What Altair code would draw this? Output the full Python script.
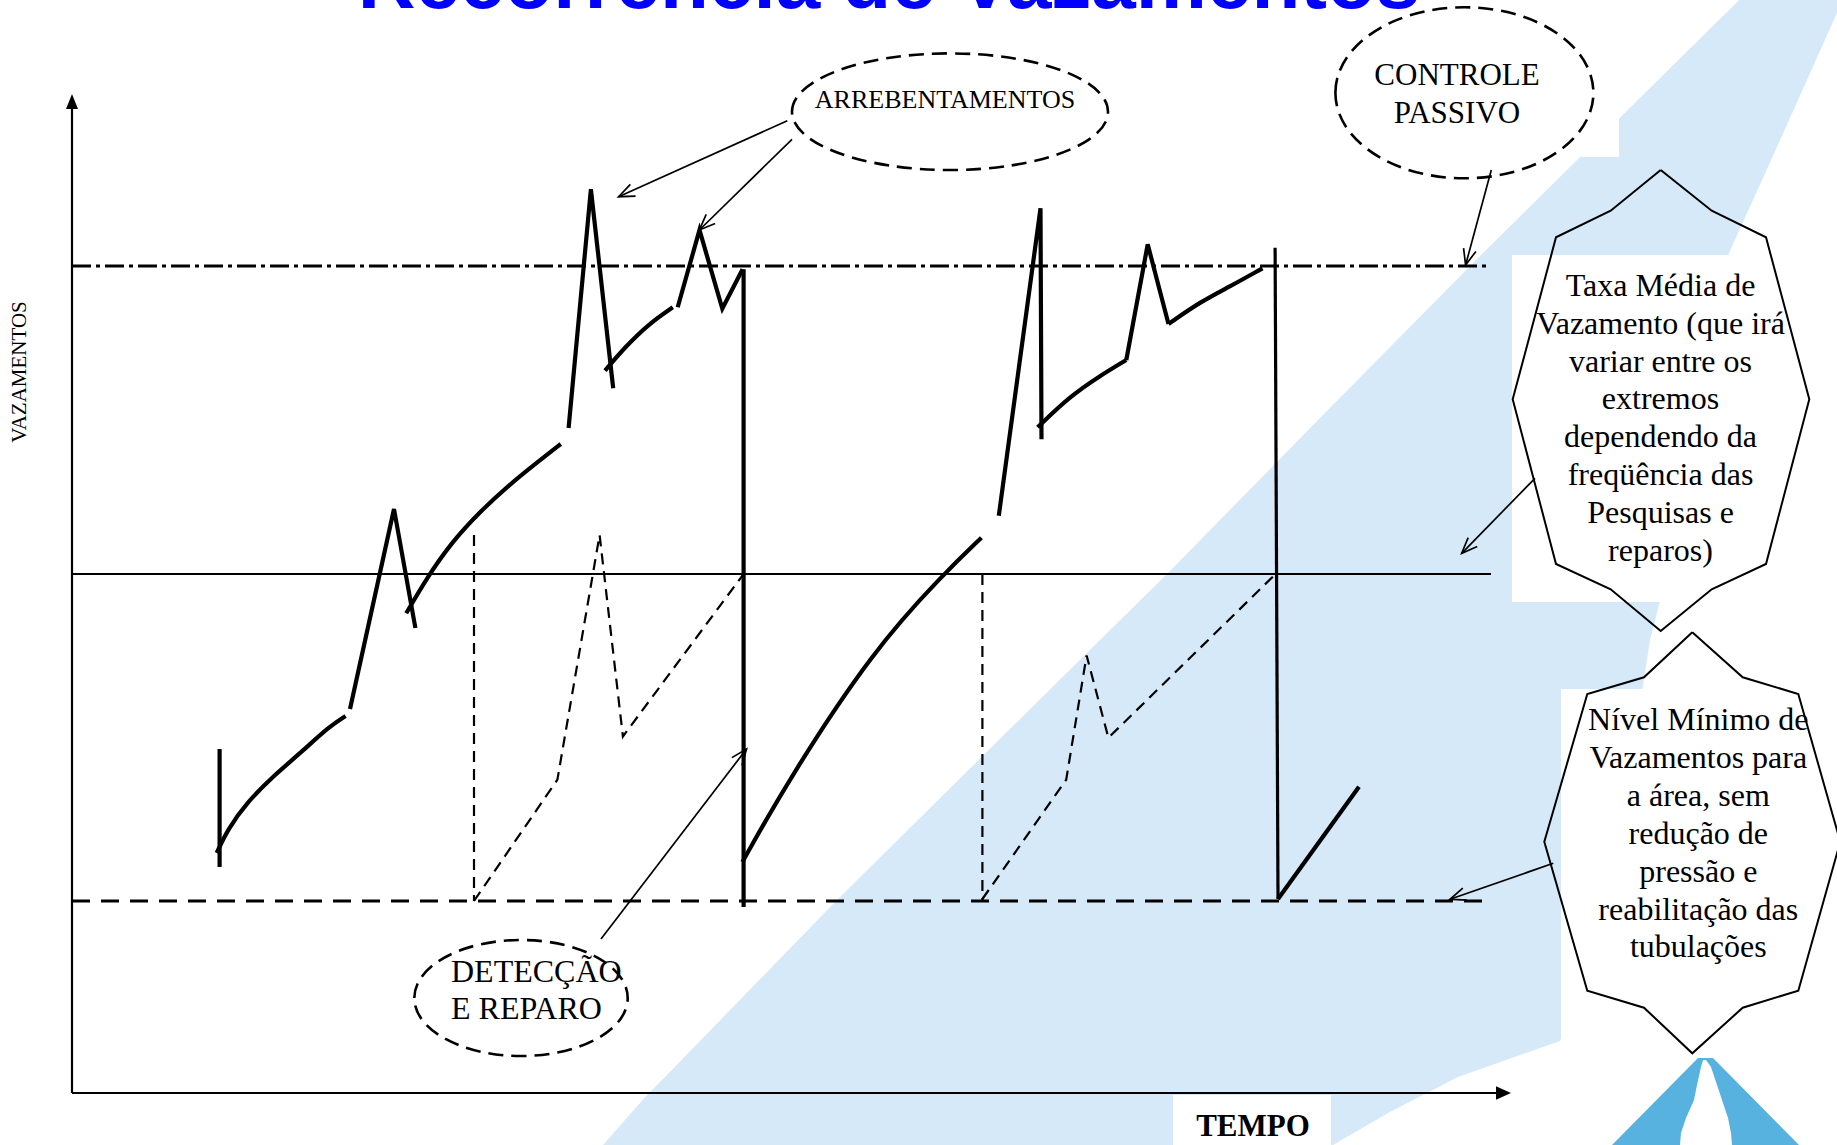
import math
import altair as alt
import pandas as pd

# Drawing coordinates: t = time (0 on the vertical axis), v = leakage (0 on the time axis).
# One unit equals one pixel on both axes.
W, H = 1837, 1145
T_DOM = [-72, 1765]
V_DOM = [-52, 1093]

LEVEL_MIN = 192        # minimum leakage level
LEVEL_AVG = 519        # average leakage rate
LEVEL_PASSIVE = 827    # passive control level
LEVEL_END = 1419
AXIS_T_END = 1439
AXIS_V_END = 999

# Leak curve pieces drawn as straight strokes (bursts, repairs)
burst_segments = {
    "a": [(147.6, 344), (147.6, 226)],
    "c": [(278, 384), (322, 584), (343.4, 465)],
    "e": [(496.6, 665), (518.9, 903.7), (541.2, 704.7)],
    "g": [(605.7, 785.7), (627.5, 863), (650.3, 784.3), (670.6, 823.7)],
    "h": [(671.6, 823.7), (671.6, 186)],
    "j": [(926.8, 577.3), (968.5, 884.7), (969.5, 653.7)],
    "k2": [(1054.3, 733), (1075.7, 848.7), (1096.5, 769)],
    "n": [(1206, 194), (1287, 306.3)],
}
repair_drop = [(1203.1, 845.3), (1206, 194)]

# Leak curve pieces showing gradual growth of undetected leaks
growth_segments = {
    "b": [(144.7, 240), (155.8, 264), (175.2, 290.7), (199.4, 315.3), (228.5, 340), (257.6, 366.8), (273.6, 377)],
    "d": [(334.2, 479.7), (354.6, 514.7), (378.8, 549.7), (407.9, 581.3), (437, 608), (466, 631.3), (488.8, 649)],
    "f": [(533, 722.3), (553.3, 746.3), (577.5, 769.7), (600.8, 785.7)],
    "i": [(670.4, 231), (716.5, 313.3), (801.3, 443), (871.6, 519), (909.4, 555.2)],
    "k": [(965.6, 665.7), (997.6, 696.3), (1026.7, 716.3), (1054.3, 733)],
    "l": [(1096.5, 769), (1128.5, 791.3), (1157.6, 806.3), (1190.5, 824.7)],
}

# Leakage with active detection and repair (dashed)
detection_segments = {
    "d1": [(402, 558), (402, LEVEL_MIN)],
    "d2": [(402, LEVEL_MIN), (485.4, 313.3), (527.6, 558), (550.9, 356.5), (671.6, LEVEL_AVG)],
    "d3": [(910.4, LEVEL_AVG), (910.4, LEVEL_MIN)],
    "d4": [(910.4, 194), (994.2, 313.3), (1014.6, 437.5), (1036.4, 355.2), (1203.6, LEVEL_AVG)],
}

# Callout arrows: (from, to)
callout_arrows = [
    ((715.3, 972.3), (546.6, 896.3)),
    ((720, 953.7), (627.4, 863)),
    ((1419.3, 923), (1393.6, 828)),
    ((1463, 614.7), (1389.7, 539.7)),
    ((1481.3, 229.7), (1378, 193.7)),
    ((529, 154), (674.5, 344)),
]

# Callout outlines
taxa_shape = [(1588.7, 923), (1639.7, 882.3), (1694, 855.7), (1737.3, 693.7), (1694, 529), (1639.7, 503.7),
              (1588.7, 462), (1538.7, 503.7), (1484, 529), (1440.7, 693.7), (1484, 855.7), (1538.7, 882.3)]
nivel_shape = [(1620.3, 460.7), (1670.7, 415.7), (1726.3, 399), (1768.3, 251.3), (1726.3, 102.3), (1670.7, 85.3),
               (1620.3, 39.7), (1572, 85.3), (1515.3, 102.3), (1472.3, 251.3), (1515.3, 399), (1572, 415.7)]

# Dashed ellipses: centre t, centre v, radius t, radius v
ellipse_names = ["arrebentamentos", "controle", "deteccao"]
ellipse_ct = [878, 1392.4, 449]
ellipse_cv = [981.3, 1000.2, 95]
ellipse_rt = [158, 129, 106.7]
ellipse_rv = [58.3, 85.5, 58]

# White label boxes: t0, t1, v0, v1
box_t0 = [1228, 1440, 1489, 1101]
box_t1 = [1547, 1656, 1765, 1259]
box_v0 = [936, 491, 56, -52]
box_v1 = [1093, 838, 404, -2]

# Light blue background band: v, left edge t, right edge t
band_v = [1093, 1080, 926, 840, 673, 519, 453, 192, 52, 16, 0, -19, -52]
band_left = [1667, 1654, 1498, 1411, 1246, 1095, 1028, 764, 628, 593, 577, 560, 531]
band_right = [1765, 1765, 1696, 1657, 1618, 1595, 1578, 1538, 1488, 1386, 1355, 1318, 1261]

# Logo: blue pyramid with a white drop
logo_v = [35, -52]
logo_left = [1626, 1540]
logo_right = [1641, 1727]
drop_v = [33, 26, 8, -7, -25, -40, -52]
drop_left = [1631, 1629, 1625, 1622, 1614, 1609, 1608]
drop_right = [1634, 1639, 1645, 1650, 1656, 1659, 1660]

TITLE = "Recorrência de Vazamentos"
taxa_lines = ["Taxa Média de", "Vazamento (que irá", "variar entre os", "extremos",
              "dependendo da", "freqüência das", "Pesquisas e", "reparos)"]
nivel_lines = ["Nível Mínimo de", "Vazamentos para", "a área, sem", "redução de",
               "pressão e", "reabilitação das", "tubulações"]


def X(f="t"):
    return alt.X(f"{f}:Q", scale=alt.Scale(domain=T_DOM, nice=False, zero=False), axis=None, stack=None)


def Y(f="v"):
    return alt.Y(f"{f}:Q", scale=alt.Scale(domain=V_DOM, nice=False, zero=False), axis=None, stack=None)


def seg_frame(segs):
    rows = []
    for name, pts in segs.items():
        for i, (t, v) in enumerate(pts):
            rows.append({"seg": name, "i": i, "t": t, "v": v})
    return pd.DataFrame(rows)


def lines(segs, width, dash=None, interp="linear", color="black"):
    kw = dict(color=color, strokeWidth=width, interpolate=interp, strokeCap="butt", strokeJoin="miter")
    if dash:
        kw["strokeDash"] = dash
    return alt.Chart(seg_frame(segs)).mark_line(**kw).encode(
        x=X(), y=Y(), detail="seg:N", order="i:Q")


def arrow_segments(arrows, head_len=17, half_angle=22):
    segs = {}
    a = math.radians(half_angle)
    for n, ((t0, v0), (t1, v1)) in enumerate(arrows):
        segs[f"shaft{n}"] = [(t0, v0), (t1, v1)]
        dx, dy = t0 - t1, v0 - v1
        d = math.hypot(dx, dy)
        ux, uy = dx / d, dy / d
        arm = []
        for s in (1, -1):
            ca, sa = math.cos(s * a), math.sin(s * a)
            arm.append((t1 + head_len * (ux * ca - uy * sa), v1 + head_len * (ux * sa + uy * ca)))
        segs[f"head{n}"] = [arm[0], (t1, v1), arm[1]]
    return segs


def band(vs, left, right, color):
    # horizontal area: for each leakage level, fill between the left and right edges
    df = pd.DataFrame({"v": vs, "l": left, "r": right}).sort_values("v")
    return alt.Chart(df).mark_area(orient="horizontal", fill=color, opacity=1, strokeWidth=0).encode(
        y=Y(), x=X("l"), x2="r:Q")


def ellipse_path(k):
    c = 0.5523
    return (f"M -1 0 C -1 {-c*k:.4f} {-c:.4f} {-k:.4f} 0 {-k:.4f} "
            f"C {c:.4f} {-k:.4f} 1 {-c*k:.4f} 1 0 "
            f"C 1 {c*k:.4f} {c:.4f} {k:.4f} 0 {k:.4f} "
            f"C {-c:.4f} {k:.4f} -1 {c*k:.4f} -1 0 Z")


def text_layer(rows, size, align="center", weight="normal", font="Liberation Serif", color="black", angle=0,
               baseline="alphabetic"):
    df = pd.DataFrame(rows, columns=["label", "t", "v"])
    kw = dict(font=font, fontSize=size, align=align, baseline=baseline, fontWeight=weight, color=color)
    if angle:
        kw["angle"] = angle
    return alt.Chart(df).mark_text(**kw).encode(x=X(), y=Y(), text="label:N")


# --- background ---
bg_band = band(band_v, band_left, band_right, "#d6e9f8")
logo = band(logo_v, logo_left, logo_right, "#58b2df")
logo_drop = band(drop_v, drop_left, drop_right, "white")

boxes = alt.Chart(pd.DataFrame({"t0": box_t0, "t1": box_t1, "v0": box_v0, "v1": box_v1})).mark_rect(
    color="white").encode(x=X("t0"), x2="t1:Q", y=Y("v0"), y2="v1:Q")

# --- axes and reference levels ---
axes = lines({"yaxis": [(0, 0), (0, AXIS_V_END - 12)], "xaxis": [(0, 0), (AXIS_T_END - 12, 0)]}, 2.2)
avg_line = lines({"avg": [(0, LEVEL_AVG), (LEVEL_END, LEVEL_AVG)]}, 2.2)
min_line = lines({"min": [(0, LEVEL_MIN), (LEVEL_END, LEVEL_MIN)]}, 3, dash=[18, 11])
passive_line = lines({"passive": [(0, LEVEL_PASSIVE), (LEVEL_END, LEVEL_PASSIVE)]}, 3.2, dash=[19, 5, 4, 5])

arrow_tips = pd.DataFrame({
    "t": [0, AXIS_T_END - 7.5],
    "v": [AXIS_V_END - 7.5, 0],
    "shape": ["M 0 -1 L 0.8 1 L -0.8 1 Z", "M 1 0 L -1 0.9 L -1 -0.9 Z"],
})
axis_heads = alt.Chart(arrow_tips).mark_point(filled=True, color="black", opacity=1, size=225).encode(
    x=X(), y=Y(), shape=alt.Shape("shape:N", scale=None))

# --- leakage curves ---
bursts = lines(burst_segments, 4.2)
drop2 = lines({"m": repair_drop}, 3.2)
growth = lines(growth_segments, 4.2, interp="basis")
detection = lines(detection_segments, 2.2, dash=[11, 7])

# --- callouts ---
arrows = lines(arrow_segments(callout_arrows), 1.7)
shapes = {"taxa": taxa_shape + taxa_shape[:1], "nivel": nivel_shape + nivel_shape[:1]}
outlines = alt.Chart(seg_frame(shapes)).mark_line(color="black", strokeWidth=2, strokeJoin="miter").encode(
    x=X(), y=Y(), detail="seg:N", order="i:Q")

ell_df = pd.DataFrame({
    "name": ellipse_names, "t": ellipse_ct, "v": ellipse_cv,
    "shape": [ellipse_path(rv / rt) for rt, rv in zip(ellipse_rt, ellipse_rv)],
    "sz": [(2 * rt) ** 2 for rt in ellipse_rt],
})
ellipses = alt.Chart(ell_df).mark_point(filled=False, color="black", opacity=1, strokeWidth=2.6,
                                        strokeDash=[15, 8]).encode(
    x=X(), y=Y(), shape=alt.Shape("shape:N", scale=None), size=alt.Size("sz:Q", scale=None))

# --- text ---
title = text_layer([(TITLE, 817, 1085)], 80, weight="bold", font="Liberation Sans", color="#0000ff")
y_label = text_layer([("VAZAMENTOS", -52, 721)], 21, angle=270, baseline="middle")
x_label = text_layer([("TEMPO", 1181, -43)], 31, weight="bold")
arreb = text_layer([("ARREBENTAMENTOS", 873, 984.7)], 26)
controle = text_layer([("CONTROLE", 1385, 1008), ("PASSIVO", 1385, 970.3)], 31)
deteccao = text_layer([("DETECÇÃO", 379, 111), ("E REPARO", 379, 74)], 32, align="left")
taxa = text_layer([(s, 1588.5, 797.3 - 37.9 * i) for i, s in enumerate(taxa_lines)], 32)
nivel = text_layer([(s, 1626.3, 363 - 37.9 * i) for i, s in enumerate(nivel_lines)], 32)

chart = alt.layer(
    bg_band, logo, logo_drop, boxes,
    axes, avg_line, min_line, passive_line, axis_heads,
    detection, growth, bursts, drop2,
    arrows, outlines, ellipses,
    title, y_label, x_label, arreb, controle, deteccao, taxa, nivel,
).properties(
    width=W, height=H, padding=0, autosize=alt.AutoSizeParams(type="none"), background="white"
).configure_view(strokeWidth=0)

chart.save("out.html", embed_options={"renderer": "svg", "actions": False})
